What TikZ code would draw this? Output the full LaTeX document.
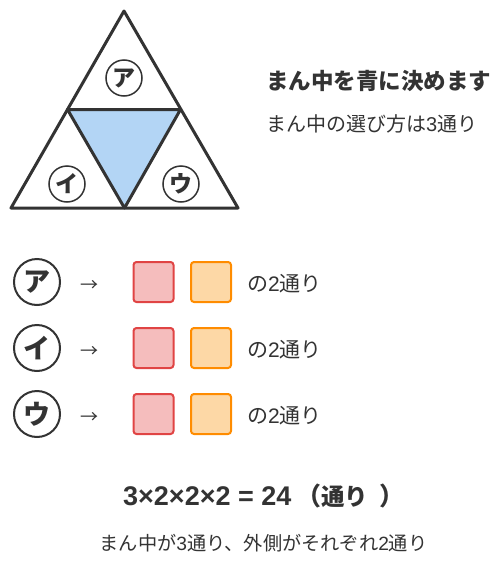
\documentclass[tikz,border=0pt]{standalone}
\usepackage{fontspec}
\setmainfont{Noto Sans CJK JP}
\newfontfamily\latinfont{Liberation Sans}
\newcommand{\dg}[1]{{\latinfont #1}}
\definecolor{ink}{HTML}{333333}
\definecolor{bluefill}{HTML}{B3D5F5}
\definecolor{redfill}{HTML}{F5BDBD}
\definecolor{redline}{HTML}{E04444}
\definecolor{orfill}{HTML}{FDD8A6}
\definecolor{orline}{HTML}{FF8C00}
\tikzset{
  tri/.style={draw=ink, line width=3pt, line join=round},
  smallcirc/.style={circle, draw=ink, line width=1.5pt, minimum size=36pt, inner sep=0pt, font=\fontsize{23}{23}\selectfont\bfseries, text=ink},
  bigcirc/.style={circle, draw=ink, line width=2pt, minimum size=46pt, inner sep=0pt, font=\fontsize{27}{27}\selectfont\bfseries, text=ink},
  redsq/.style={draw=redline, fill=redfill, line width=2pt, rounded corners=3pt, minimum size=40pt, inner sep=0pt},
  orsq/.style={draw=orline, fill=orfill, line width=2pt, rounded corners=3pt, minimum size=40pt, inner sep=0pt},
  arr/.style={font=\fontsize{18}{18}\selectfont, text=ink},
  rowtxt/.style={font=\fontsize{21}{21}\selectfont, text=ink, anchor=west, inner sep=0pt},
}
\begin{document}
\begin{tikzpicture}[x=1pt,y=-1pt]
\useasboundingbox (0,0) rectangle (500,565);
% triangle
\coordinate (A) at (124,11);
\coordinate (B) at (11,208);
\coordinate (C) at (238,208);
\coordinate (AB) at (67.5,109.5);
\coordinate (AC) at (180.5,109.5);
\coordinate (BC) at (124.5,208);
\fill[bluefill] (AB) -- (AC) -- (BC) -- cycle;
\draw[tri] (A) -- (B) -- (C) -- cycle;
\draw[tri] (AB) -- (AC) -- (BC) -- cycle;
\node[smallcirc] (ta) at (124,78) {ア};
\node[smallcirc] (ti) at (67,184) {イ};
\node[smallcirc] (tu) at (181,184) {ウ};
% titles
\node[anchor=west, inner sep=0pt, text=ink, font=\fontsize{22.5}{22.5}\selectfont\bfseries] (title) at (266,81) {まん中を青に決めます};
\node[anchor=west, inner sep=0pt, text=ink, font=\fontsize{20}{20}\selectfont] (sub) at (266,124) {まん中の選び方は\dg{3}通り};
% rows
\foreach \y/\k/\n in {282/ア/1, 348/イ/2, 414/ウ/3}{
  \node[bigcirc] (c\n) at (37,\y) {\k};
  \node[arr] (a\n) at (89,\y+4) {→};
  \node[redsq] (r\n) at (153.5,\y) {};
  \node[orsq] (o\n) at (211,\y) {};
  \node[rowtxt] (t\n) at (247,\y+1.5) {の\dg{2}通り};
}
% bottom
\node[anchor=west, inner sep=0pt, text=ink, font=\fontsize{27}{27}\selectfont\bfseries] (formula) at (123,496) {\dg{3×2×2×2 = 24}\hspace{5pt}{\fontsize{25}{25}\selectfont （}{\fontsize{23.5}{23.5}\selectfont 通り}\hspace{11pt}{\fontsize{25}{25}\selectfont ）}};
\node[inner sep=0pt, text=ink, font=\fontsize{19.2}{19.2}\selectfont] (note) at (263.5,543) {まん中が\dg{3}通り、外側がそれぞれ\dg{2}通り};
\end{tikzpicture}
\end{document}
